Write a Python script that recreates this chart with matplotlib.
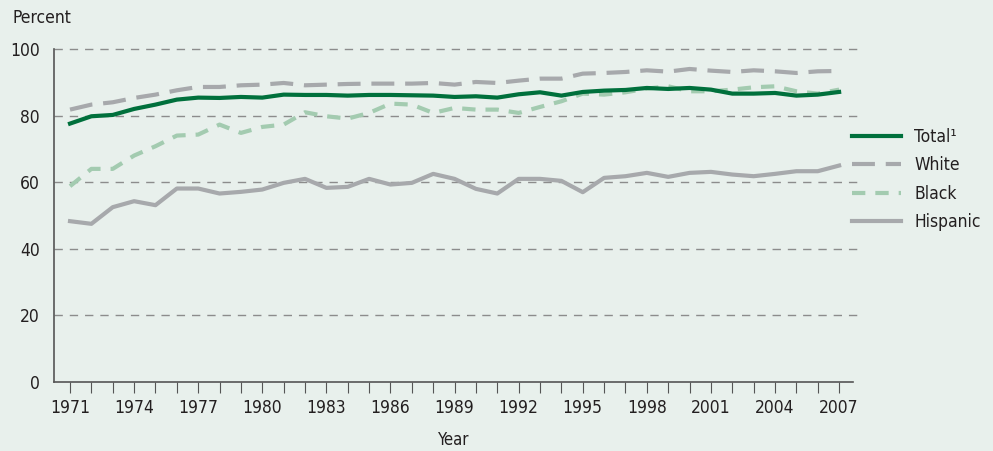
import numpy as np
import matplotlib.pyplot as plt
from matplotlib.lines import Line2D

# Données
years = list(range(1971, 2008))
total = [77.6, 79.8, 80.2, 82.0, 83.3, 84.8, 85.4, 85.3, 85.6, 85.4, 86.3, 86.2,
         86.2, 86.0, 86.2, 86.2, 86.1, 86.0, 85.6, 85.8, 85.4, 86.4, 87.0, 86.0,
         87.1, 87.5, 87.7, 88.3, 88.0, 88.3, 87.8, 86.6, 86.6, 86.8, 86.0, 86.3, 87.1]
white = [81.8, 83.3, 84.0, 85.3, 86.3, 87.6, 88.6, 88.6, 89.1, 89.3, 89.8, 89.1,
         89.3, 89.5, 89.6, 89.6, 89.6, 89.8, 89.3, 90.1, 89.8, 90.5, 91.1, 91.1,
         92.6, 92.8, 93.1, 93.6, 93.2, 94.0, 93.5, 93.1, 93.6, 93.3, 92.8, 93.3, 93.4]
black = [58.8, 64.0, 64.0, 68.0, 70.8, 74.0, 74.3, 77.3, 74.8, 76.6, 77.3, 81.0,
         79.8, 79.1, 80.8, 83.6, 83.3, 80.8, 82.3, 81.8, 81.8, 80.8, 82.6, 84.3,
         86.6, 86.3, 87.0, 88.1, 88.8, 87.3, 87.3, 87.8, 88.5, 88.8, 87.3, 86.6, 87.8]
hispanic = [48.3, 47.5, 52.5, 54.3, 53.1, 58.1, 58.1, 56.6, 57.1, 57.8, 59.8, 61.0,
            58.3, 58.6, 61.0, 59.3, 59.8, 62.5, 61.0, 58.0, 56.6, 61.0, 61.0, 60.4,
            57.0, 61.3, 61.8, 62.8, 61.6, 62.8, 63.1, 62.3, 61.8, 62.5, 63.3, 63.3, 65.0]

bg = '#e8f0ec'
green = '#00703c'
grey = '#a7a9ac'
lightgreen = '#a3cbb0'
txt = '#231f20'

plt.rcParams['font.family'] = ['DejaVu Sans']
plt.rcParams['font.stretch'] = 'condensed'

fig = plt.figure(figsize=(9.93, 4.51), dpi=100, facecolor=bg)
ax = fig.add_axes([54/993, 1-382/451, (853-54)/993, (382-49)/451])
ax.set_facecolor(bg)

lw = 3.0
ax.plot(years, hispanic, color=grey, lw=lw, zorder=3)
ax.plot(years, black, color=lightgreen, lw=lw, dashes=(3.2, 2.4), zorder=4)
ax.plot(years, white, color=grey, lw=lw, dashes=(5.5, 2.6), zorder=3)
ax.plot(years, total, color=green, lw=lw, zorder=5)

ax.set_xlim(1970.25, 2007.65)
ax.set_ylim(0, 100)
ax.set_xticks(years)
ax.set_xticklabels([str(y) if (y - 1971) % 3 == 0 else '' for y in years])
ax.set_yticks([0, 20, 40, 60, 80, 100])
for v in [20, 40, 60, 80, 100]:
    ax.axhline(v, color='#8c8c8c', lw=1.0, dashes=(6, 5), zorder=1, xmax=1.005, clip_on=False)

for s in ['top', 'right']:
    ax.spines[s].set_visible(False)
ax.spines['left'].set_color('#555555')
ax.spines['bottom'].set_color('#555555')
ax.spines['left'].set_linewidth(1.2)
ax.spines['bottom'].set_linewidth(1.2)
ax.tick_params(axis='x', direction='out', length=8, width=0.8, color='#555555',
               labelsize=12.5, labelcolor=txt, pad=4)
ax.tick_params(axis='y', length=0, labelsize=12.5, labelcolor=txt, pad=10)

ax.set_xlabel('Year', fontsize=12, color=txt, labelpad=10)
fig.text(12/993, 1-18/451, 'Percent', fontsize=12.5, color=txt, va='center', ha='left')

handles = [
    Line2D([], [], color=green, lw=lw),
    Line2D([], [], color=grey, lw=lw, dashes=(5.5, 2.6)),
    Line2D([], [], color=lightgreen, lw=lw, dashes=(3.2, 2.4)),
    Line2D([], [], color=grey, lw=lw),
]
labels = ['Total¹', 'White', 'Black', 'Hispanic']
leg = fig.legend(handles, labels, loc='upper left', bbox_to_anchor=(845/993, 1-121/451),
                 frameon=False, fontsize=12.5, handlelength=2.8, handletextpad=0.8,
                 labelspacing=0.6, borderaxespad=0)
for t in leg.get_texts():
    t.set_color(txt)

fig.savefig('out.png', dpi=100, facecolor=bg)
